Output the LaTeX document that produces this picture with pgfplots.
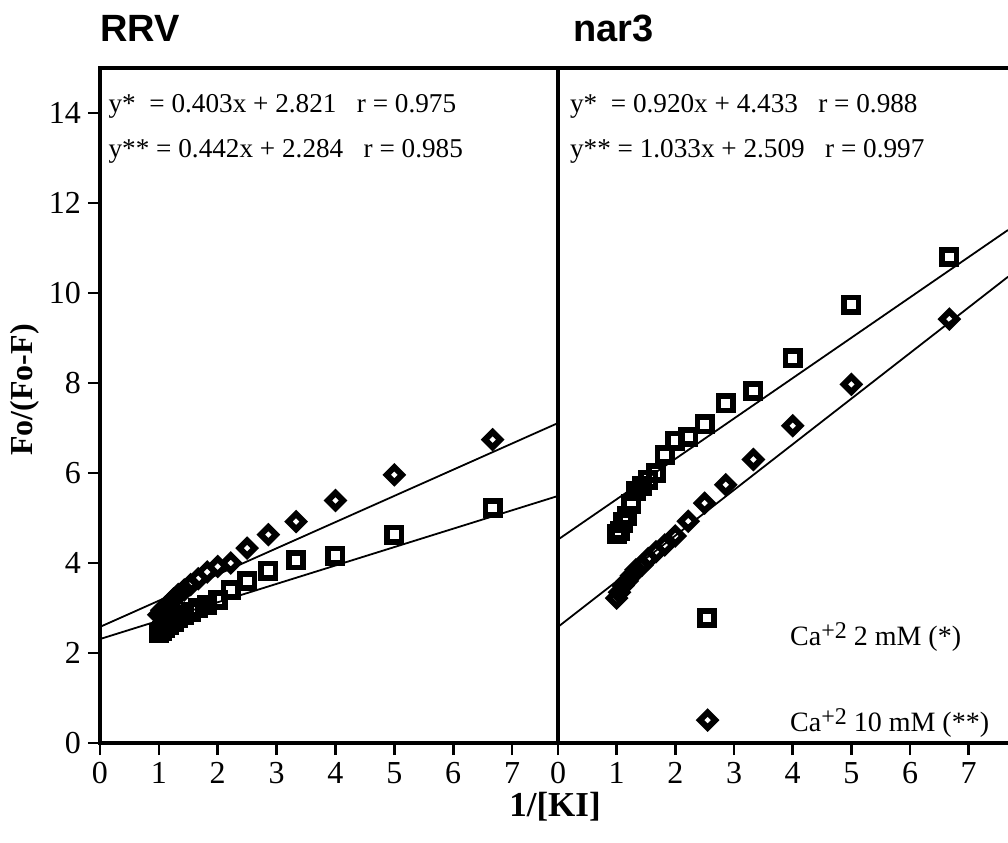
\documentclass[border=0pt]{standalone}
\usepackage{fontspec}
\setmainfont{Liberation Serif}
\newfontfamily\arialfont{Liberation Sans}
\usepackage{pgfplots}
\pgfplotsset{compat=1.18}

\pgfplotsset{
  panel/.style={
    scale only axis, height=337.5pt,
    ymin=0, ymax=15,
    xmin=0, xtick={0,...,7},
    tick align=outside, xtick pos=bottom, ytick pos=left,
    major tick length=6pt,
    every tick/.style={black, line width=1.3pt},
    axis line style={line width=1.6pt},
    tick label style={font=\fontsize{16}{16}\selectfont},
    /pgf/number format/assume math mode=true,
  },
  sq/.style={only marks, mark=square, mark size=3.6pt, black,
    mark options={line width=2.8pt, solid}},
  dm/.style={only marks, mark=square, mark size=2.7pt, black,
    mark options={line width=3pt, solid, rotate=45}},
  fit/.style={black, line width=0.9pt, no marks},
}
\tikzset{eq/.style={anchor=west, inner sep=0pt, font=\fontsize{13.6}{13.6}\selectfont},
  leg/.style={anchor=west, inner sep=0pt, font=\fontsize{14}{14}\selectfont}}
\newcommand{\caexp}[1]{\raisebox{0.55ex}{\fontsize{12}{12}\selectfont #1}}

\begin{document}
\begin{tikzpicture}
\useasboundingbox (-50pt,-49.5pt) rectangle (454pt,371.5pt);

% ---------------- RRV ----------------
\begin{axis}[panel, at={(0pt,0pt)}, anchor=south west, width=229pt,
  xmax=7.78, ytick={0,2,...,14},
  ylabel={\bfseries Fo/(Fo-F)},
  ylabel style={at={(axis description cs:-0.165,0.523)}, anchor=center,
    font=\fontsize{16}{16}\selectfont}]
\addplot[fit] coordinates {(0,2.58) (7.78,7.11)};
\addplot[fit] coordinates {(0,2.31) (7.78,5.49)};
% Ca 2 mM (squares)
\addplot[sq] coordinates {
 (1.00,2.45) (1.05,2.50) (1.11,2.55) (1.18,2.62) (1.25,2.70) (1.33,2.78)
 (1.43,2.85) (1.54,2.92) (1.67,3.00) (1.82,3.07) (2.00,3.18) (2.22,3.40)
 (2.50,3.60) (2.86,3.83) (3.33,4.06) (4.00,4.16) (5.00,4.63) (6.67,5.22)};
% Ca 10 mM (diamonds)
\addplot[dm] coordinates {
 (1.00,2.85) (1.05,2.95) (1.11,3.02) (1.18,3.10) (1.25,3.20) (1.33,3.30)
 (1.43,3.40) (1.54,3.52) (1.67,3.65) (1.82,3.80) (2.00,3.92) (2.22,4.00)
 (2.50,4.33) (2.86,4.63) (3.33,4.92) (4.00,5.39) (5.00,5.96) (6.67,6.74)};
\node[eq] at (axis cs:0.14,14.15) {y*\ \ = 0.403x + 2.821\ \ \ r = 0.975};
\node[eq] at (axis cs:0.14,13.15) {y** = 0.442x + 2.284\ \ \ r = 0.985};
\end{axis}

% ---------------- nar3 ----------------
\begin{axis}[panel, at={(229pt,0pt)}, anchor=south west, width=225pt,
  xmax=7.67, ytick=\empty, axis y line*=left]
\addplot[fit] coordinates {(0,4.52) (7.67,11.40)};
\addplot[fit] coordinates {(0,2.58) (7.67,10.36)};
\addplot[sq] coordinates {
 (1.00,4.65) (1.05,4.72) (1.11,4.90) (1.18,5.05) (1.25,5.30) (1.33,5.60)
 (1.43,5.72) (1.54,5.85) (1.67,6.00) (1.82,6.40) (2.00,6.72) (2.22,6.80)
 (2.50,7.08) (2.86,7.55) (3.33,7.82) (4.00,8.55) (5.00,9.74) (6.67,10.80)};
\addplot[dm] coordinates {
 (1.00,3.22) (1.05,3.35) (1.11,3.50) (1.18,3.60) (1.25,3.72) (1.33,3.85)
 (1.43,3.95) (1.54,4.10) (1.67,4.25) (1.82,4.40) (2.00,4.60) (2.22,4.93)
 (2.50,5.33) (2.86,5.74) (3.33,6.30) (4.00,7.05) (5.00,7.97) (6.67,9.42)};
% legend
\addplot[sq] coordinates {(2.54,2.78)};
\addplot[dm] coordinates {(2.55,0.51)};
\node[leg] at (axis cs:3.95,2.35) {Ca\caexp{+2} 2 mM (*)};
\node[leg] at (axis cs:3.95,0.45) {Ca\caexp{+2} 10 mM (**)};
\node[eq] at (axis cs:0.2,14.15) {y*\ \ = 0.920x + 4.433\ \ \ r = 0.988};
\node[eq] at (axis cs:0.2,13.15) {y** = 1.033x + 2.509\ \ \ r = 0.997};
\end{axis}

\node[anchor=west, inner sep=0pt, font=\arialfont\bfseries\fontsize{19}{19}\selectfont] at (0pt,357.5pt) {RRV};
\node[anchor=west, inner sep=0pt, font=\arialfont\bfseries\fontsize{19}{19}\selectfont] at (236.5pt,357.5pt) {nar3};
\node[font=\bfseries\fontsize{17.5}{17.5}\selectfont] at (227.5pt,-32pt) {1/[KI]};
\end{tikzpicture}
\end{document}
